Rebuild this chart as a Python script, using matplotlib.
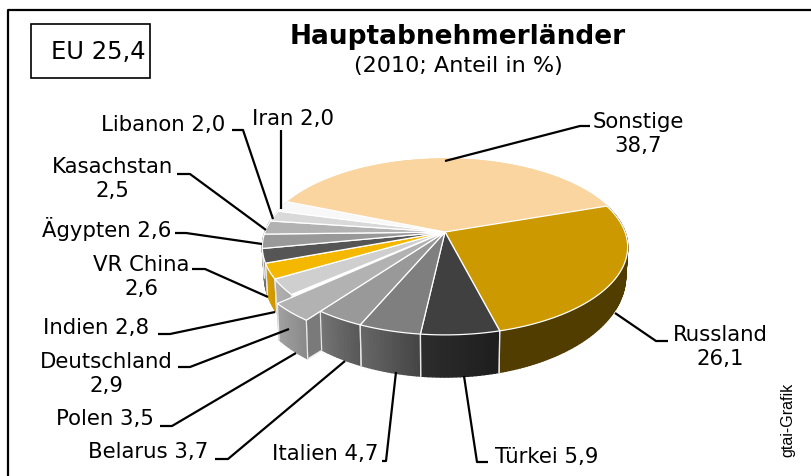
"""3D pie of the main customer countries, drawn with plain polygons."""
import numpy as np
import matplotlib
matplotlib.use("Agg")
import matplotlib.pyplot as plt
from matplotlib.colors import to_rgb
from matplotlib.patches import Polygon, Rectangle

# data, clockwise from the back left
countries = ["Sonstige", "Russland", "Türkei", "Italien", "Belarus", "Polen",
             "Deutschland", "Indien", "VR China", "Ägypten", "Kasachstan",
             "Libanon", "Iran"]
shares = [38.7, 26.1, 5.9, 4.7, 3.7, 3.5, 2.9, 2.8, 2.6, 2.6, 2.5, 2.0, 2.0]
exploded = "Polen"

# styles
top_colors = ["#FAD5A0", "#CC9900", "#404040", "#7F7F7F", "#999999", "#B2B2B2",
              "#CFCFCF", "#F5B800", "#555555", "#999999", "#B2B2B2", "#D9D9D9",
              "#F8F8F8"]
wall_colors = [("#FAD5A0", "#FAD5A0"), ("#523D00", "#523D00"), ("#1E1E1E", "#2C2C2C"),
               ("#454545", "#666666"), ("#585858", "#747474"), ("#8A8A8A", "#A0A0A0"),
               ("#A8A8A8", "#B0B0B0"), ("#CC9600", "#D8A000"), ("#666666", "#777777"),
               ("#777777", "#777777"), ("#888888", "#888888"), ("#999999", "#999999"),
               ("#BBBBBB", "#BBBBBB")]

# label text with line breaks, position
label_text = ["Sonstige\n38,7", "Russland\n26,1", "Türkei 5,9", "Italien 4,7",
              "Belarus 3,7", "Polen 3,5", "Deutschland\n2,9", "Indien 2,8",
              "VR China\n2,6", "Ägypten 2,6", "Kasachstan\n2,5", "Libanon 2,0",
              "Iran 2,0"]
label_xy = [(638, 134), (720, 347), (547, 457), (325, 454), (148, 452), (105, 419),
            (106, 374), (96, 328), (141, 277), (107, 229), (112, 179), (163, 125),
            (293, 119)]
leaders = [[(445, 162), (580, 127), (590, 127)],
           [(615, 314), (656, 342), (668, 342)],
           [(464, 377), (477, 463), (488, 463)],
           [(396, 373), (386, 462), (382, 462)],
           [(345, 362), (228, 460), (215, 460)],
           [(296, 354), (172, 427), (160, 427)],
           [(289, 330), (190, 368), (178, 368)],
           [(275, 313), (170, 335), (158, 335)],
           [(268, 298), (205, 270), (192, 270)],
           [(262, 245), (186, 234), (175, 234)],
           [(266, 231), (190, 175), (177, 175)],
           [(273, 220), (243, 131), (232, 131)],
           [(281, 210), (281, 131)]]

# pie projection, in pixels
CX, CY = 445, 233
START = 158.0
K = 0.17
TOP_A, TOP_B = 180, 85.4
BOT_A, BOT_B, BOT_DY = 178, 98, 27
SHIFT = np.array([-14, 9])


def project(theta, a, b, dy=0):
    t = np.radians(theta)
    u, v = np.cos(t), np.sin(t)
    w = 1 + K * v
    return np.column_stack([CX + a * u / w, CY + dy - b * v / w])


def top_arc(theta):
    return project(theta, TOP_A, TOP_B)


def bottom_arc(theta):
    return project(theta, BOT_A, BOT_B, BOT_DY)


def blend(c1, c2, f):
    return tuple((1 - f) * np.array(to_rgb(c1)) + f * np.array(to_rgb(c2)))


def draw_wall(ax, theta, colors, shift=(0, 0), zorder=2):
    top = top_arc(theta) + shift
    bot = bottom_arc(theta) + shift
    # small quads for the gradient on the rim
    for i in range(len(theta) - 1):
        quad = [top[i], top[i + 1], bot[i + 1], bot[i]]
        col = blend(colors[0], colors[1], i / max(len(theta) - 2, 1))
        ax.add_patch(Polygon(quad, closed=True, fc=col, ec=col, lw=1.0, zorder=zorder))
    for k in (0, -1):
        ax.plot([top[k][0], bot[k][0]], [top[k][1], bot[k][1]], color="#E8E8E8",
                lw=0.9, zorder=zorder + 0.1)


def main():
    fig = plt.figure(figsize=(8.11, 4.77), dpi=100)
    ax = fig.add_axes([0, 0, 1, 1])
    ax.set_xlim(0, 811)
    ax.set_ylim(477, 0)
    ax.axis("off")

    # outer frame, open on the right and at the bottom
    ax.plot([8, 8, 811], [477, 11, 11], color="black", lw=1.6, zorder=1)
    ax.add_patch(Rectangle((31, 25), 119, 54, fc="white", ec="black", lw=1.2))
    ax.text(98.5, 52, "EU 25,4", ha="center", va="center", fontsize=17.5)

    ax.text(458, 37.5, "Hauptabnehmerländer", ha="center", va="center",
            fontsize=19, fontweight="bold")
    ax.text(458, 66, "(2010; Anteil in %)", ha="center", va="center", fontsize=16)

    vals = np.array(shares)
    edges = START - 360 * np.concatenate([[0], np.cumsum(vals)]) / vals.sum()
    arcs = [np.linspace(edges[i], edges[i + 1], max(int(abs(edges[i + 1] - edges[i])), 6))
            for i in range(len(vals))]
    ex = countries.index(exploded)

    # radial side of the pulled out slice, mostly hidden by its neighbour
    a0 = top_arc(arcs[ex][:1])[0] + SHIFT
    b0 = bottom_arc(arcs[ex][:1])[0] + SHIFT
    apex = np.array([CX, CY]) + SHIFT
    ax.add_patch(Polygon([a0, apex, apex + (0, 42), b0], closed=True,
                         fc="#7A7A7A", ec="#E8E8E8", lw=0.9, zorder=1.5))

    # rims from the sides to the front, so nearer ones cover the others
    for i in [0, 12, 11, 10, 9, 8, 7, 6, 1, 2, 3, 4]:
        draw_wall(ax, arcs[i], wall_colors[i])
    draw_wall(ax, arcs[ex], wall_colors[ex], SHIFT, zorder=3)

    # top faces
    for i in range(len(vals)):
        arc = top_arc(arcs[i])
        if i == ex:
            arc = arc + SHIFT
        ax.add_patch(Polygon(np.vstack([[(CX, CY)], arc]), closed=True, fc=top_colors[i],
                             ec="white" if i != 0 else "#FAD5A0", lw=0.9,
                             zorder=5 if i == ex else 4))

    for pts in leaders:
        xs, ys = zip(*pts)
        ax.plot(xs, ys, color="black", lw=1.6, zorder=6, solid_capstyle="butt")

    for txt, (x, y) in zip(label_text, label_xy):
        ax.text(x, y, txt, ha="center", va="center", fontsize=15.3, linespacing=1.27, zorder=7)

    ax.text(788, 420, "gtai-Grafik", rotation=90, ha="center", va="center",
            fontsize=11.5, family="Liberation Sans")

    fig.savefig("out.png", dpi=100)
    plt.close(fig)


if __name__ == "__main__":
    main()
